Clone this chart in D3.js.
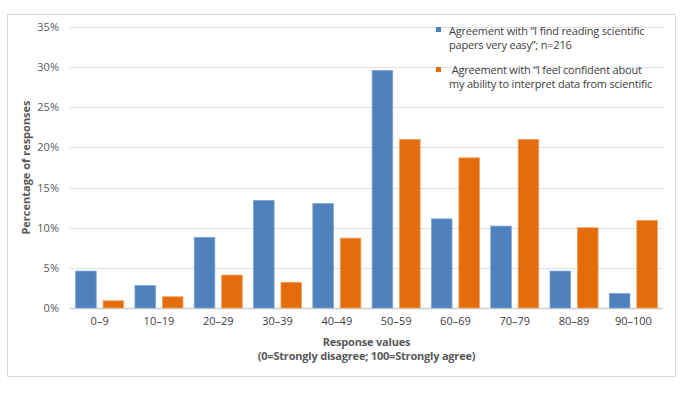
<!DOCTYPE html>
<html>
<head>
<meta charset="utf-8">
<script src="https://cdn.jsdelivr.net/npm/d3@7"></script>
<style>
  body { margin: 0; background: #fff; }
  text { font-family: "Open Sans", sans-serif; }
</style>
</head>
<body>
<div id="chart"></div>
<script>
const categories = ["0–9", "10–19", "20–29", "30–39", "40–49", "50–59", "60–69", "70–79", "80–89", "90–100"];
const easyValues = [4.6, 2.8, 8.8, 13.4, 13.0, 29.6, 11.1, 10.2, 4.6, 1.8];
const confidentValues = [0.9, 1.4, 4.1, 3.2, 8.7, 21.0, 18.7, 21.0, 10.0, 10.9];
const yTicks = [0, 5, 10, 15, 20, 25, 30, 35];
const seriesNames = [
    ["Agreement with “I find reading scientific", "papers very easy”; n=216"],
    [" Agreement with “I feel confident about", "my ability to interpret data from scientific"]
];
const colors = ["#4f81bd", "#e46c0a"];
const strokes = ["#7fa3d3", "#f0a060"];

const width = 700, height = 398;
const margin = { top: 27, right: 37, bottom: 90, left: 70 };
const plotW = width - margin.left - margin.right;
const plotH = height - margin.top - margin.bottom;

const svg = d3.select("#chart").append("svg")
    .attr("width", width)
    .attr("height", height);

// outer frame
svg.append("rect")
    .attr("x", 7.5).attr("y", 14.5)
    .attr("width", 668).attr("height", 362)
    .attr("fill", "#fff")
    .attr("stroke", "#d9d9d9");

const g = svg.append("g")
    .attr("transform", `translate(${margin.left}, ${margin.top})`);

const y = d3.scaleLinear().domain([0, 35]).range([plotH, 0]);
const x = d3.scaleBand().domain(categories).range([0, plotW]).paddingInner(0.19).paddingOuter(0.095);
const xs = d3.scaleBand().domain([0, 1]).range([0, x.bandwidth()]).paddingInner(0.25);

// gridlines
g.append("g")
    .selectAll("line")
    .data(yTicks)
    .join("line")
    .attr("x1", 0).attr("x2", plotW)
    .attr("y1", d => Math.round(y(d)) + 0.5)
    .attr("y2", d => Math.round(y(d)) + 0.5)
    .attr("stroke", d => d === 0 ? "#d0d0d0" : "#e0e0e0")
    .attr("stroke-width", d => d === 0 ? 1.5 : 1);

// y labels
const yAxis = g.append("g")
    .call(d3.axisLeft(y).tickValues(yTicks).tickSize(0).tickPadding(11).tickFormat(d => d + "%"));
yAxis.select(".domain").remove();
yAxis.selectAll("text")
    .attr("font-family", "'Open Sans', sans-serif")
    .attr("font-size", "11px")
    .attr("fill", "#595959");

// x labels
const xAxis = g.append("g")
    .attr("transform", `translate(0, ${plotH})`)
    .call(d3.axisBottom(x).tickSize(0).tickPadding(9));
xAxis.select(".domain").remove();
xAxis.selectAll("text")
    .attr("font-family", "'Open Sans', sans-serif")
    .attr("font-size", "11px")
    .attr("fill", "#404040");

// bars
const series = [easyValues, confidentValues];
series.forEach((vals, si) => {
    g.append("g")
        .selectAll("rect")
        .data(vals)
        .join("rect")
        .attr("x", (d, i) => x(categories[i]) + xs(si))
        .attr("y", d => y(d))
        .attr("width", xs.bandwidth())
        .attr("height", d => y(0) - y(d))
        .attr("fill", colors[si])
        .attr("stroke", strokes[si])
        .attr("stroke-width", 0.8);
});

// axis titles
g.append("text")
    .attr("transform", `translate(${25 - margin.left}, ${plotH / 2}) rotate(-90)`)
    .attr("text-anchor", "middle")
    .attr("dominant-baseline", "central")
    .attr("font-size", "11px")
    .attr("font-weight", "bold")
    .attr("fill", "#595959")
    .text("Percentage of responses");

const xTitle = g.append("text")
    .attr("text-anchor", "middle")
    .attr("font-size", "11px")
    .attr("font-weight", "bold")
    .attr("letter-spacing", "-0.2px")
    .attr("fill", "#595959");
xTitle.append("tspan").attr("x", plotW / 2).attr("y", plotH + 38).text("Response values");
xTitle.append("tspan").attr("x", plotW / 2).attr("y", plotH + 52).text("(0=Strongly disagree; 100=Strongly agree)");

// legend
const legend = svg.append("g").attr("transform", "translate(436, 27)");
seriesNames.forEach((lines, si) => {
    const lg = legend.append("g").attr("transform", `translate(0, ${si * 39})`);
    lg.append("rect")
        .attr("x", 0).attr("y", si === 0 ? 0 : 1)
        .attr("width", 5).attr("height", 5)
        .attr("fill", colors[si]);
    const t = lg.append("text")
        .attr("font-size", "11px")
        .attr("letter-spacing", "-0.2px")
        .attr("fill", "#404040")
        .attr("xml:space", "preserve")
        .style("white-space", "pre");
    lines.forEach((line, li) => {
        t.append("tspan")
            .attr("x", 13)
            .attr("y", 7.5 + li * 14.5)
            .text(line);
    });
});
</script>
</body>
</html>
